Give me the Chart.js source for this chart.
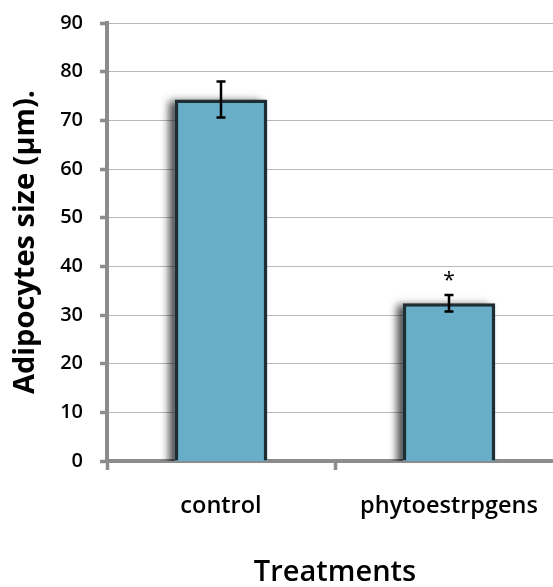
<!DOCTYPE html>
<html>
<head>
<meta charset="utf-8">
<script src="https://cdn.jsdelivr.net/npm/chart.js@4.4.1/dist/chart.umd.min.js"></script>
<style>
html,body{margin:0;padding:0;background:#fff;overflow:hidden;}
#wrap{width:553px;height:587px;overflow:hidden;}
</style>
</head>
<body>
<div id="wrap"><canvas id="adipoChart" width="565" height="587"></canvas></div>
<script>

let categories = ["control", "phytoestrpgens"];
let sizes = [74.3, 32.4];
let errors = [3.7, 1.7];
let marks = ["", "*"];
let yTicks = [0, 10, 20, 30, 40, 50, 60, 70, 80, 90];

let axisGrey = "#8c8c8c";

/* soft grey shadow on the left of each bar */
let barShadow = {
id:"barShadow",
beforeDatasetsDraw(chart){
let ctx = chart.ctx;
let area = chart.chartArea;
let meta = chart.getDatasetMeta(0);
ctx.save();
ctx.beginPath();
ctx.rect(area.left + 2, area.top, area.right - area.left, area.bottom - area.top);
ctx.clip();
ctx.shadowColor = "rgba(0,0,0,0.7)";
ctx.shadowBlur = 8;
ctx.shadowOffsetX = -6;
ctx.shadowOffsetY = 1;
ctx.fillStyle = "#68aec8";
meta.data.forEach(bar=>{
let left = bar.x - bar.width/2;
ctx.fillRect(left, bar.y + 1, bar.width, bar.base - bar.y + 10);
});
ctx.restore();
}
};

/* error bars and the significance star */
let errorBars = {
id:"errorBars",
afterDatasetsDraw(chart){
let ctx = chart.ctx;
let y = chart.scales.y;
let meta = chart.getDatasetMeta(0);
ctx.save();
ctx.strokeStyle = "#000";
ctx.lineWidth = 2.5;
meta.data.forEach((bar, i)=>{
let x = bar.x;
let top = y.getPixelForValue(sizes[i] + errors[i]);
let bottom = y.getPixelForValue(sizes[i] - errors[i]);
ctx.beginPath();
ctx.moveTo(x, top);
ctx.lineTo(x, bottom);
ctx.moveTo(x - 4.5, top);
ctx.lineTo(x + 4.5, top);
ctx.moveTo(x - 4.5, bottom);
ctx.lineTo(x + 4.5, bottom);
ctx.stroke();

if(marks[i]){
ctx.fillStyle = "#000";
ctx.font = "21px 'Open Sans'";
ctx.textAlign = "center";
ctx.textBaseline = "middle";
ctx.fillText(marks[i], x, top - 14);
}
});
ctx.restore();
}
};

new Chart(document.getElementById("adipoChart"),{

type:"bar",

data:{
labels:categories,
datasets:[{
data:sizes,
backgroundColor:"#68aec8",
borderColor:"#1f2c32",
borderWidth:3.5,
borderSkipped:"bottom",
categoryPercentage:1,
barPercentage:0.405
}]
},

options:{
responsive:false,
animation:false,
layout:{
padding:{top:23, right:2, left:0, bottom:0}
},
plugins:{
legend:{display:false},
tooltip:{enabled:false}
},
scales:{
x:{
grid:{
drawOnChartArea:false,
drawTicks:true,
tickLength:9,
tickColor:axisGrey,
tickWidth:3.5
},
border:{color:axisGrey, width:4},
ticks:{
color:"#000",
padding:22,
font:{family:"'Open Sans'", size:23.5, weight:"600"}
},
title:{
display:true,
text:"Treatments",
color:"#000",
padding:{top:0, bottom:-3},
font:{family:"'Open Sans'", size:29, weight:"600"}
},
afterFit(s){ s.height = 126; s.paddingLeft = 0; s.paddingRight = 0; }
},
y:{
min:0,
max:90,
afterBuildTicks(s){ s.ticks = yTicks.map(v=>({value:v})); },
grid:{
color:"#b8b8b8",
lineWidth:1,
tickLength:7,
tickColor:axisGrey,
tickWidth:3.5
},
border:{color:axisGrey, width:4},
ticks:{
color:"#000",
padding:17,
font:{family:"'Open Sans'", size:20, weight:"600"}
},
title:{
display:true,
text:"Adipocytes size (μm).",
color:"#000",
padding:{top:8, bottom:0},
font:{family:"'Open Sans'", size:29, weight:"bold"}
},
afterFit(s){ s.width = 107; s.paddingTop = 0; s.paddingBottom = 0; }
}
}
},

plugins:[barShadow, errorBars]

});

</script>
</body>
</html>
